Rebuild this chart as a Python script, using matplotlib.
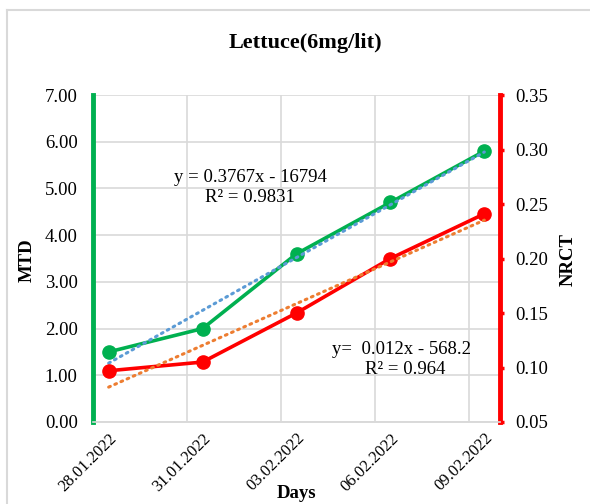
"""Lettuce (6 mg/lit): MTD and NRCT over days, with linear trendlines."""

import matplotlib

matplotlib.use("Agg")

import matplotlib.pyplot as plt
import numpy as np
from matplotlib.lines import Line2D

plt.rcParams["font.family"] = ["Liberation Serif", "DejaVu Serif"]

# data
day_offset = [0, 3, 6, 9, 12]
date_labels = ["28.01.2022", "31.01.2022", "03.02.2022", "06.02.2022", "09.02.2022"]
mtd = [1.50, 2.00, 3.60, 4.70, 5.80]
nrct = [0.097, 0.105, 0.150, 0.200, 0.241]

GREEN = "#00B050"
RED = "#FF0000"
BLUE = "#5B9BD5"
ORANGE = "#ED7D31"
GRID = "#D9D9D9"
FS = 13.5

W, H = 590, 504
fig = plt.figure(figsize=(W / 100, H / 100), dpi=100)

# plot area in pixel coordinates of the reference
left, right, top, bottom = 93, 500, 95, 422
ax = fig.add_axes([left / W, 1 - bottom / H, (right - left) / W, (bottom - top) / H])
ax2 = ax.twinx()

x = np.array(day_offset, dtype=float)

# series
ax.plot(x, mtd, color=GREEN, lw=2.6, marker="o", ms=9.5, zorder=4)
ax2.plot(x, nrct, color=RED, lw=2.6, marker="o", ms=9.5, zorder=4)

# linear trendlines
for axis, vals, col in ((ax, mtd, BLUE), (ax2, nrct, ORANGE)):
    k, b = np.polyfit(x, vals, 1)
    axis.plot(x[[0, -1]], k * x[[0, -1]] + b, color=col, lw=2.2,
              linestyle=(0, (0.6, 1.6)), dash_capstyle="round", zorder=5)

# x axis: labels at points, gridlines at category boundaries
ax.set_xlim(x[0] - 0.5, x[-1] + 0.5)
ax.set_xticks(x)
ax.set_xticklabels(date_labels, rotation=45, ha="right", rotation_mode="anchor",
                   fontsize=12)
ax.set_xticks(x - 0.5, minor=True)
ax.tick_params(axis="x", which="both", length=0, pad=6)
ax.grid(True, axis="x", which="minor", color=GRID, lw=1.2)

# left axis
ax.set_ylim(0, 7)
ax.set_yticks(np.arange(0, 7.01, 1))
ax.set_yticklabels([f"{v:.2f}" for v in np.arange(0, 7.01, 1)], fontsize=FS)
ax.tick_params(axis="y", length=0, pad=11)
ax.grid(True, axis="y", color=GRID, lw=1.2)
ax.set_axisbelow(True)

# right axis
ax2.set_ylim(0.05, 0.35)
ax2.set_yticks(np.arange(0.05, 0.351, 0.05))
ax2.set_yticklabels([f"{v:.2f}" for v in np.arange(0.05, 0.351, 0.05)], fontsize=FS)
ax2.tick_params(axis="y", length=3, width=2.5, color=RED, pad=8)

for a in (ax, ax2):
    a.spines["top"].set_visible(False)
    a.spines["bottom"].set_color(GRID)
    a.spines["bottom"].set_linewidth(1.2)
ax.spines["right"].set_visible(False)
ax2.spines["left"].set_color(GREEN)
ax2.spines["left"].set_linewidth(3.5)
ax2.spines["right"].set_color(RED)
ax2.spines["right"].set_linewidth(3.5)

# texts
fig.text(305 / W, 1 - 43 / H, "Lettuce(6mg/lit)", ha="center", va="center",
         fontsize=16, fontweight="bold")
fig.text(27 / W, 1 - 260 / H, "MTD", rotation=90, ha="center", va="center",
         fontsize=FS, fontweight="bold")
fig.text(568 / W, 1 - 260 / H, "NRCT", rotation=90, ha="center", va="center",
         fontsize=FS, fontweight="bold")
fig.text(297 / W, 1 - 494 / H, "Days", ha="center", va="center",
         fontsize=FS, fontweight="bold")

fig.text(250 / W, 1 - 177 / H, "y = 0.3767x - 16794", ha="center", va="center",
         fontsize=FS)
fig.text(250 / W, 1 - 198 / H, "R² = 0.9831", ha="center", va="center", fontsize=FS)
fig.text(402 / W, 1 - 350 / H, "y=  0.012x - 568.2", ha="center", va="center",
         fontsize=FS)
fig.text(405 / W, 1 - 370 / H, "R² = 0.964", ha="center", va="center", fontsize=FS)

# chart border
fig.add_artist(Line2D([7 / W, 7 / W], [0, 1 - 10 / H], color=GRID, lw=1.5,
                      transform=fig.transFigure))
fig.add_artist(Line2D([7 / W, 1], [1 - 10 / H, 1 - 10 / H], color=GRID, lw=1.5,
                      transform=fig.transFigure))

fig.savefig("out.png", dpi=100)
